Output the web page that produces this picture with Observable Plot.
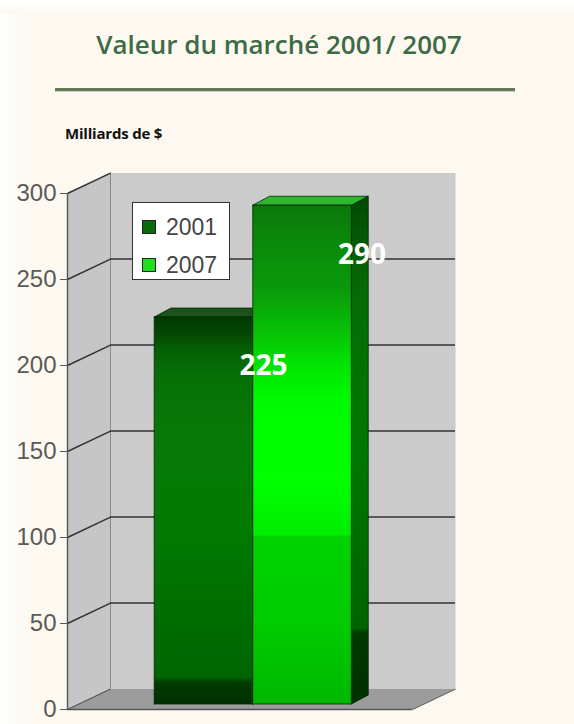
<!DOCTYPE html>
<html>
<head>
<meta charset="utf-8">
<script src="https://cdn.jsdelivr.net/npm/d3@7"></script>
<script src="https://cdn.jsdelivr.net/npm/@observablehq/plot@0.6"></script>
<style>
  html, body { margin: 0; padding: 0; background: #ffffff; }
  #page { position: relative; width: 574px; height: 724px; overflow: hidden; background: #fdf9f0; }
  #fadeL { position: absolute; left: 0; top: 0; width: 28px; height: 724px; background: linear-gradient(to right, #ffffff, #fdf9f0); }
  #fadeT { position: absolute; left: 0; top: 0; width: 574px; height: 14px; background: linear-gradient(to bottom, #ffffff, #fdf9f0); }
  #title { position: absolute; left: 0; top: 26px; width: 558px; text-align: center; font-family: "Open Sans", sans-serif; font-weight: 600; font-size: 26px; color: #3d6b45; line-height: 36px; }
  #rule { position: absolute; left: 55px; top: 88px; width: 460px; height: 3px; background: #65785a; box-shadow: 0 1px 0 #c9d6b4; }
  #sub { position: absolute; left: 65px; top: 123px; font-family: "Open Sans", sans-serif; font-weight: 700; font-size: 15px; line-height: 20px; color: #111; letter-spacing: -0.2px; }
  #chart { position: absolute; left: 0; top: 150px; }
  #legend { position: absolute; left: 132px; top: 202px; width: 96px; height: 76px; background: #ffffff; border: 1px solid #333; font-family: "Liberation Sans", Arial, sans-serif; font-size: 23px; color: #444; }
  .item { position: absolute; left: 9px; height: 26px; line-height: 26px; }
  .sw { position: absolute; left: 0; top: 6px; width: 12px; height: 12px; border: 1px solid #222; }
  .lab { position: absolute; left: 24px; top: 0; }
</style>
</head>
<body>
<div id="page">
  <div id="fadeL"></div>
  <div id="fadeT"></div>
  <div id="title">Valeur du marché 2001/ 2007</div>
  <div id="rule"></div>
  <div id="sub">Milliards de $</div>
  <div id="chart"></div>
  <div id="legend"></div>
</div>
<script>
// ---- data ----
const categories = ["2001", "2007"];
const values = [225, 290];
const yTicks = [0, 50, 100, 150, 200, 250, 300];
const gridValues = [50, 100, 150, 200, 250];
const seriesColors = ["#0b6b0b", "#1ee01e"];

// ---- layout constants (3D projection in data units) ----
const yMax = 300;
const gapWidth = 1.5;                 // Excel gap width 150%
const barW = 1 / (2 + gapWidth);
const DX = 0.1246, DY = 11.9;         // wall depth
const FX = 0.037, FY = 3.2;           // bar front offset
const BX = 0.049, BY = 5.2;           // bar depth

const P = (x, y) => ({x, y});
const leftWall = [P(0, 0), P(0, yMax), P(DX, yMax + DY), P(DX, DY), P(0, 0)];
const backWall = [P(DX, DY), P(DX, yMax + DY), P(1 + DX, yMax + DY), P(1 + DX, DY), P(DX, DY)];
const floor = [P(0, 0), P(1, 0), P(1 + DX, DY), P(DX, DY), P(0, 0)];

const bars = categories.map((c, i) => {
  const x0 = gapWidth * barW / 2 + i * barW + FX;
  const x1 = x0 + barW;
  const v = values[i];
  return {
    cat: c, value: v, i, x0, x1,
    front: [P(x0, FY), P(x0, v + FY), P(x1, v + FY), P(x1, FY), P(x0, FY)],
    top: [P(x0, v + FY), P(x0 + BX, v + FY + BY), P(x1 + BX, v + FY + BY), P(x1, v + FY), P(x0, v + FY)],
    side: [P(x1, FY), P(x1, v + FY), P(x1 + BX, v + FY + BY), P(x1 + BX, FY + BY), P(x1, FY)]
  };
});

const frontFill = ["url(#g2001)", "url(#g2007)"];
const topFill = ["#1c531c", "#2fb82f"];
const sideFill = ["url(#s2001)", "url(#s2007)"];

const poly = (pts, fill, stroke, sw) => Plot.line(pts, {x: "x", y: "y", fill, stroke, strokeWidth: sw, strokeLinejoin: "round", curve: "linear"});

const marks = [
  poly(leftWall, "#c6c6c6", "none", 0),
  poly(backWall, "#cbcbcb", "none", 0),
  poly(floor, "#9c9c9c", "none", 0),
  Plot.ruleX([DX], {y1: DY, y2: yMax + DY, stroke: "#8a8a8a", strokeWidth: 1}),
  Plot.ruleY(gridValues, {y: d => d + DY, x1: DX, x2: 1 + DX, stroke: "#333", strokeWidth: 1.4}),
  Plot.link(gridValues.concat([yMax]), {x1: 0, y1: d => d, x2: DX, y2: d => d + DY, stroke: "#333", strokeWidth: 1.4}),
  Plot.link([0], {x1: 0, y1: 0, x2: DX, y2: DY, stroke: "#555", strokeWidth: 1.2}),
  Plot.link([0], {x1: 1, y1: 0, x2: 1 + DX, y2: DY, stroke: "#6a6a6a", strokeWidth: 1.2}),
  Plot.ruleY([0], {x1: 0, x2: 1, stroke: "#555", strokeWidth: 1.6}),
  Plot.ruleX([0], {y1: 0, y2: yMax, stroke: "#555", strokeWidth: 1.4})
];
for (const b of bars) {
  marks.push(poly(b.side, sideFill[b.i], "#002400", 0.8));
  marks.push(poly(b.top, topFill[b.i], "#002400", 0.8));
  marks.push(poly(b.front, frontFill[b.i], "#002400", 0.8));
}
marks.push(Plot.text(bars, {
  x: d => (d.x0 + d.x1) / 2, y: "value", text: d => String(d.value),
  dx: 60, dy: 44, fill: "white", fontSize: 28, fontWeight: "bold",
  fontFamily: "Open Sans, sans-serif", textAnchor: "middle", lineAnchor: "middle"
}));

const svg = Plot.plot({
  width: 574,
  height: 574,
  marginTop: 43,
  marginBottom: 15,
  marginLeft: 67,
  marginRight: 162,
  x: {domain: [0, 1], axis: null},
  y: {domain: [0, yMax], ticks: yTicks, tickSize: 7, tickPadding: 4, label: null, line: false, tickFormat: d => String(d)},
  style: {background: "transparent", overflow: "visible", fontFamily: "Liberation Sans, Arial, sans-serif", fontSize: "24px", color: "#5a5a5a"},
  marks
});

const defs = d3.select(svg).insert("defs", ":first-child");
function grad(id, stops) {
  const g = defs.append("linearGradient").attr("id", id).attr("x1", 0).attr("y1", 0).attr("x2", 0).attr("y2", 1);
  for (const [o, c] of stops) g.append("stop").attr("offset", o).attr("stop-color", c);
}
grad("g2001", [[0, "#023802"], [0.04, "#034603"], [0.08, "#045e04"], [0.15, "#067006"], [0.3, "#077807"], [0.55, "#017a01"], [0.75, "#006e00"], [0.93, "#006600"], [0.945, "#003c00"], [1, "#003000"]]);
grad("g2007", [[0, "#0a780a"], [0.08, "#0a8a0a"], [0.17, "#0a9a0a"], [0.25, "#06c006"], [0.33, "#00e800"], [0.4, "#00fb00"], [0.55, "#00ff00"], [0.66, "#00ee00"], [0.665, "#00d200"], [0.83, "#00cc00"], [1, "#00b800"]]);
grad("s2001", [[0, "#013001"], [1, "#012801"]]);
grad("s2007", [[0, "#044a04"], [0.2, "#066c06"], [0.5, "#007800"], [0.85, "#006400"], [0.86, "#003a00"], [1, "#002e00"]]);

document.getElementById("chart").appendChild(svg);

const legend = document.getElementById("legend");
categories.forEach((c, i) => {
  const item = document.createElement("div");
  item.className = "item";
  item.style.top = (i === 0 ? 11 : 49) + "px";
  const sw = document.createElement("div");
  sw.className = "sw";
  sw.style.background = seriesColors[i];
  const lab = document.createElement("div");
  lab.className = "lab";
  lab.textContent = c;
  item.appendChild(sw);
  item.appendChild(lab);
  legend.appendChild(item);
});
</script>
</body>
</html>
